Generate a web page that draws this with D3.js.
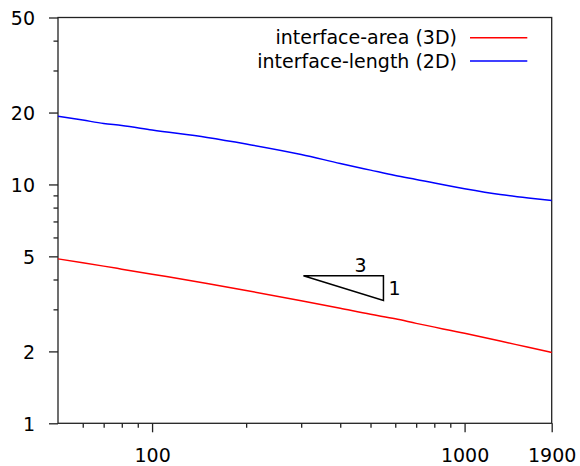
<!DOCTYPE html>
<html>
<head>
<meta charset="utf-8">
<script src="https://cdn.jsdelivr.net/npm/d3@7"></script>
<style>
  body { margin: 0; background: #fff; }
  text { font-family: "DejaVu Sans", sans-serif; }
</style>
</head>
<body>
<svg id="chart"></svg>
<script>
// values
var xs = [50, 60, 70, 80, 100, 150, 200, 300, 400, 500, 600, 700, 1000, 1300, 1600, 1900];
var area3d = [4.88, 4.70, 4.55, 4.42, 4.21, 3.85, 3.60, 3.26, 3.03, 2.86, 2.74, 2.62, 2.38, 2.21, 2.08, 1.98];
var length2d = [19.3, 18.6, 18.0, 17.66, 16.9, 15.73, 14.77, 13.35, 12.24, 11.48, 10.9, 10.5, 9.6, 9.08, 8.78, 8.57];
var seriesNames = ["interface-area (3D)", "interface-length (2D)"];
var seriesColors = ["#ff0000", "#0000ff"];
var yMajor = [1, 2, 5, 10, 20, 50];
var yMinor = [3, 4, 6, 7, 8, 9, 30, 40];
var xMajor = [100, 1000, 1900];
var xMinor = [60, 70, 80, 90, 200, 300, 400, 500, 600, 700, 800, 900];
var slopeX = [305, 550];   // slope triangle corners
var slopeY = [4.15, 3.27];

var width = 580, height = 466;
var margin = {top: 17.5, right: 28.3, bottom: 42.7, left: 58};
var w = width - margin.left - margin.right,
    h = height - margin.top - margin.bottom;
var fs = 19;

var svg = d3.select("#chart").attr("width", width).attr("height", height);
var g = svg.append("g").attr("transform", "translate(" + margin.left + "," + margin.top + ")");

var x = d3.scaleLog().domain([50, 1900]).range([0, w]);
var y = d3.scaleLog().domain([1, 50]).range([h, 0]);

function styleAxis(sel) {
  sel.select(".domain").remove();
  sel.selectAll("line").attr("stroke", "#222").attr("stroke-width", 1.3);
  sel.selectAll("text").attr("font-size", fs).attr("fill", "#000")
    .attr("font-family", "DejaVu Sans, sans-serif");
}

// minor ticks
g.append("g").call(d3.axisLeft(y).tickValues(yMinor).tickSize(4.5).tickFormat(""))
  .call(styleAxis);
g.append("g").attr("transform", "translate(0," + h + ")")
  .call(d3.axisBottom(x).tickValues(xMinor).tickSize(4.5).tickFormat(""))
  .call(styleAxis);

// major ticks
g.append("g").call(d3.axisLeft(y).tickValues(yMajor).tickSize(9).tickPadding(14).tickFormat(d3.format("d")))
  .call(styleAxis)
  .selectAll("text").attr("dy", "0.36em");
g.append("g").attr("transform", "translate(0," + h + ")")
  .call(d3.axisBottom(x).tickValues(xMajor).tickSize(9).tickPadding(16).tickFormat(d3.format("d")))
  .call(styleAxis);

// frame
g.append("rect").attr("width", w).attr("height", h)
  .attr("fill", "none").attr("stroke", "#222").attr("stroke-width", 1.3);

var line = d3.line()
  .x(function(d) { return x(d[0]); })
  .y(function(d) { return y(d[1]); })
  .curve(d3.curveMonotoneX);

[area3d, length2d].forEach(function(vals, i) {
  g.append("path")
    .datum(xs.map(function(v, j) { return [v, vals[j]]; }))
    .attr("fill", "none")
    .attr("stroke", seriesColors[i])
    .attr("stroke-width", 1.5)
    .attr("d", line);
});

// slope triangle
var tri = [[slopeX[0], slopeY[0]], [slopeX[1], slopeY[0]], [slopeX[1], slopeY[1]]];
g.append("path")
  .attr("d", "M" + tri.map(function(p) { return x(p[0]) + "," + y(p[1]); }).join("L") + "Z")
  .attr("fill", "none").attr("stroke", "#000").attr("stroke-width", 1.5);
g.append("text").attr("x", x(Math.sqrt(slopeX[0] * slopeX[1])) + 17).attr("y", y(slopeY[0]) - 4)
  .attr("text-anchor", "middle").attr("font-size", fs).text("3");
g.append("text").attr("x", x(slopeX[1]) + 5).attr("y", y(Math.sqrt(slopeY[0] * slopeY[1])) + 7)
  .attr("font-size", fs).text("1");

// legend
var legend = svg.append("g");
seriesNames.forEach(function(name, i) {
  var ly = 37.7 + i * 23.3;
  legend.append("line").attr("x1", 470).attr("x2", 527.3).attr("y1", ly).attr("y2", ly)
    .attr("stroke", seriesColors[i]).attr("stroke-width", 1.5);
  legend.append("text").attr("x", 457).attr("y", ly + 6.5).attr("text-anchor", "end")
    .attr("font-size", fs).text(name);
});
</script>
</body>
</html>
